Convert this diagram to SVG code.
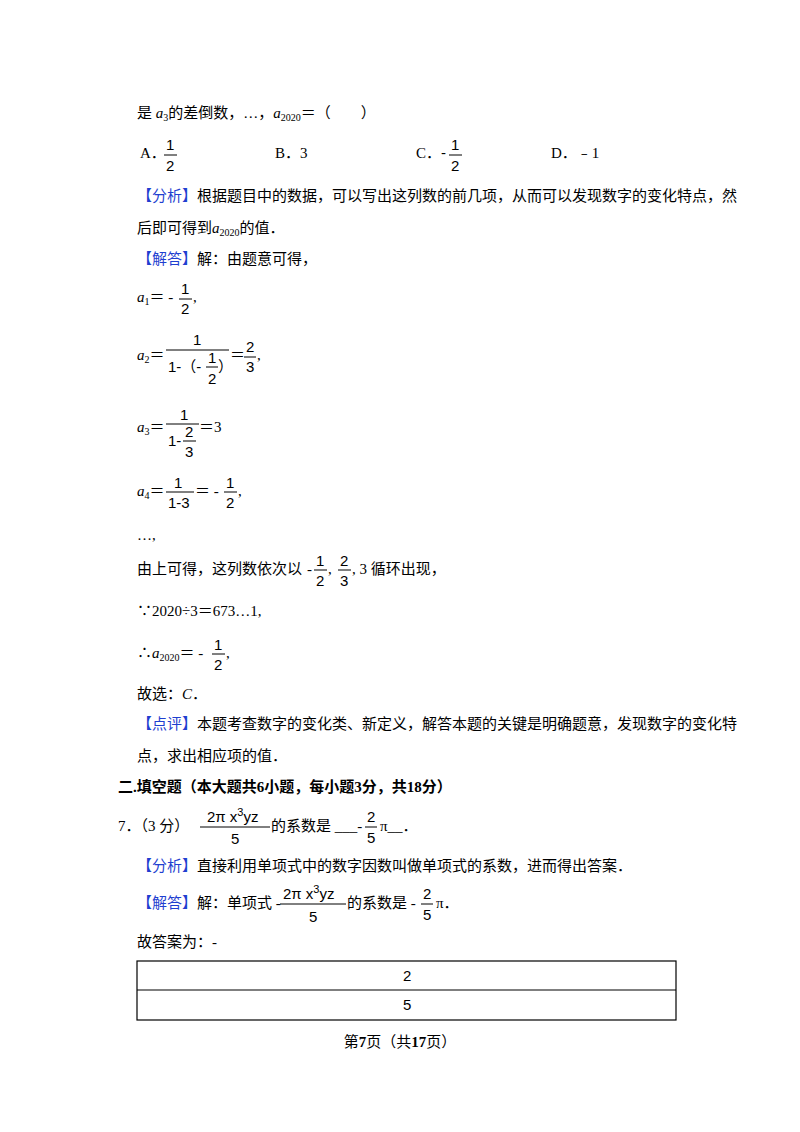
<svg xmlns="http://www.w3.org/2000/svg" width="800" height="1132" viewBox="0 0 800 1132">
<style>
text{font-family:"Liberation Serif","Noto Sans CJK SC",serif;font-size:15px;fill:#000}
.s{font-family:"Liberation Sans","Noto Sans CJK SC",sans-serif}
.b{fill:#1f3fd0}
.i{font-style:italic}
.sub{font-size:10px}
.bar{stroke:#000;stroke-width:1}
.bd{font-weight:bold}
</style>
<rect width="800" height="1132" fill="#fff"/>
<text x="137" y="118">是 <tspan class="i">a</tspan><tspan class="sub" dy="3">3</tspan><tspan dy="-3">的差倒数，…，</tspan><tspan class="i">a</tspan><tspan class="sub" dy="3">2020</tspan><tspan dy="-3">＝（　　）</tspan></text>
<text x="140" y="158">A．</text>
<text class="s" x="166" y="150">1</text><line class="bar" x1="164" y1="155" x2="177" y2="155"/><text class="s" x="166" y="171">2</text>
<text x="275" y="158">B．3</text>
<text x="416" y="158">C．</text><text class="s" x="441" y="158">-</text>
<text class="s" x="451" y="150">1</text><line class="bar" x1="449" y1="155" x2="462" y2="155"/><text class="s" x="451" y="171">2</text>
<text x="551" y="158">D．﹣1</text>
<text x="137" y="201"><tspan class="b">【分析】</tspan>根据题目中的数据，可以写出这列数的前几项，从而可以发现数字的变化特点，然</text>
<text x="137" y="233">后即可得到<tspan class="i">a</tspan><tspan class="sub" dy="3">2020</tspan><tspan dy="-3">的值．</tspan></text>
<text x="137" y="264"><tspan class="b">【解答】</tspan>解：由题意可得，</text>
<text x="137" y="302"><tspan class="i">a</tspan><tspan class="sub" dy="3">1</tspan><tspan dy="-3">＝ -</tspan></text>
<text class="s" x="181" y="294">1</text><line class="bar" x1="179" y1="299" x2="192" y2="299"/><text class="s" x="181" y="314">2</text><text x="193" y="302">,</text>
<text x="137" y="360"><tspan class="i">a</tspan><tspan class="sub" dy="3">2</tspan><tspan dy="-3">＝</tspan></text>
<text class="s" x="193" y="345">1</text><line class="bar" x1="166" y1="350" x2="229" y2="350"/>
<text class="s" x="168" y="372">1-（-</text><text class="s" x="208" y="363">1</text><line class="bar" x1="206" y1="367" x2="218" y2="367"/><text class="s" x="208" y="384">2</text><text class="s" x="218" y="372">）</text>
<text x="230" y="360">＝</text><text class="s" x="246" y="352">2</text><line class="bar" x1="244" y1="357" x2="256" y2="357"/><text class="s" x="246" y="372">3</text><text x="257" y="360">,</text>
<text x="137" y="432"><tspan class="i">a</tspan><tspan class="sub" dy="3">3</tspan><tspan dy="-3">＝</tspan></text>
<text class="s" x="180" y="420">1</text><line class="bar" x1="166" y1="424" x2="199" y2="424"/>
<text class="s" x="168" y="446">1-</text><text class="s" x="185" y="437">2</text><line class="bar" x1="183" y1="441" x2="196" y2="441"/><text class="s" x="185" y="457">3</text>
<text x="199" y="432">＝3</text>
<text x="137" y="496"><tspan class="i">a</tspan><tspan class="sub" dy="3">4</tspan><tspan dy="-3">＝</tspan></text>
<text class="s" x="174" y="488">1</text><line class="bar" x1="166" y1="492" x2="194" y2="492"/><text class="s" x="168" y="508">1-3</text>
<text x="195" y="496">＝ -</text><text class="s" x="226" y="488">1</text><line class="bar" x1="224" y1="492" x2="237" y2="492"/><text class="s" x="226" y="508">2</text><text x="238" y="496">,</text>
<text x="137" y="540">…,</text>
<text x="137" y="574">由上可得，这列数依次以</text><text x="307" y="574">-</text>
<text class="s" x="316" y="566">1</text><line class="bar" x1="314" y1="570" x2="327" y2="570"/><text class="s" x="316" y="586">2</text><text x="328" y="574">,</text>
<text class="s" x="340" y="566">2</text><line class="bar" x1="338" y1="570" x2="351" y2="570"/><text class="s" x="340" y="586">3</text><text x="352" y="574">, 3 循环出现，</text>
<text x="137" y="616">∵2020÷3＝673…1,</text>
<text x="137" y="658">∴<tspan class="i">a</tspan><tspan class="sub" dy="3">2020</tspan><tspan dy="-3">＝ -</tspan></text>
<text class="s" x="214" y="650">1</text><line class="bar" x1="212" y1="654" x2="225" y2="654"/><text class="s" x="214" y="670">2</text><text x="226" y="658">,</text>
<text x="137" y="699">故选：<tspan class="i">C</tspan>．</text>
<text x="137" y="729"><tspan class="b">【点评】</tspan>本题考查数字的变化类、新定义，解答本题的关键是明确题意，发现数字的变化特</text>
<text x="137" y="761">点，求出相应项的值．</text>
<text class="bd" x="118" y="792">二.填空题（本大题共6小题，每小题3分，共18分）</text>
<text x="118" y="831">7．（3 分）</text>
<text class="s" x="207" y="822" font-size="14">2π x<tspan dy="-6" font-size="11">3</tspan><tspan dy="6">yz</tspan></text><line class="bar" x1="200" y1="827" x2="270" y2="827"/><text class="s" x="231" y="844">5</text>
<text x="271" y="831">的系数是 ___-</text>
<text class="s" x="367" y="822">2</text><line class="bar" x1="365" y1="827" x2="377" y2="827"/><text class="s" x="367" y="843">5</text>
<text x="380" y="831">π__．</text>
<text x="137" y="871"><tspan class="b">【分析】</tspan>直接利用单项式中的数字因数叫做单项式的系数，进而得出答案．</text>
<text x="137" y="908"><tspan class="b">【解答】</tspan>解：单项式 -</text>
<text class="s" x="283" y="899" font-size="14">2π x<tspan dy="-6" font-size="11">3</tspan><tspan dy="6">yz</tspan></text><line class="bar" x1="280" y1="904" x2="346" y2="904"/><text class="s" x="309" y="922">5</text>
<text x="347" y="908">的系数是 -</text>
<text class="s" x="423" y="899">2</text><line class="bar" x1="421" y1="904" x2="433" y2="904"/><text class="s" x="423" y="920">5</text><text x="436" y="908">π．</text>
<text x="137" y="947">故答案为：-</text>
<g fill="none" stroke="#000" stroke-width="1.2"><rect x="137" y="961" width="539" height="59"/><line x1="137" y1="990" x2="676" y2="990"/></g>
<text class="s" x="403" y="981">2</text>
<text class="s" x="403" y="1010">5</text>
<text x="400" y="1047" text-anchor="middle" font-size="13">第<tspan class="bd">7</tspan>页（共<tspan class="bd">17</tspan>页）</text>
</svg>
